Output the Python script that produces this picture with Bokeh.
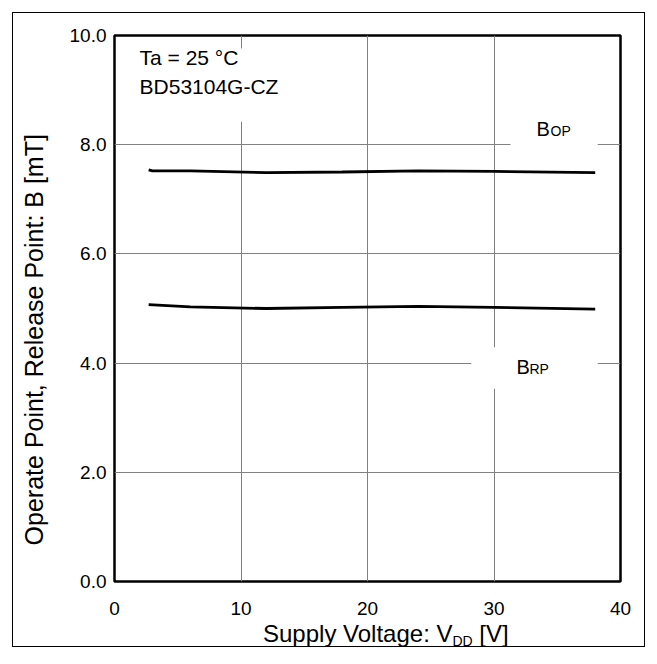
from bokeh.plotting import figure
from bokeh.layouts import column
from bokeh.models import Label, Range1d, FixedTicker, NumeralTickFormatter, BoxAnnotation, Div
from bokeh.embed import file_html
from bokeh.resources import INLINE

# ---- data ----
vdd_op = [2.7, 3.0, 6.0, 12.0, 18.0, 24.0, 30.0, 38.0]
b_op = [7.54, 7.52, 7.52, 7.49, 7.50, 7.52, 7.51, 7.49]
vdd_rp = [2.7, 6.0, 12.0, 18.0, 24.0, 30.0, 38.0]
b_rp = [5.07, 5.03, 5.00, 5.02, 5.04, 5.02, 4.99]
x_ticks = [0, 10, 20, 30, 40]
y_ticks = [0, 2, 4, 6, 8, 10]

FONT = "Liberation Sans"
W, H = 631, 611

p = figure(width=W, height=H, output_backend="svg", toolbar_location=None,
           x_range=Range1d(0, 40), y_range=Range1d(0, 10),
           min_border_left=101, min_border_right=24,
           min_border_top=22, min_border_bottom=43)
p.background_fill_color = "white"
p.border_fill_color = "white"
p.outline_line_color = "black"
p.outline_line_width = 2.5

for ax in (p.xaxis[0], p.yaxis[0]):
    ax.axis_line_color = None
    ax.major_tick_line_color = None
    ax.minor_tick_line_color = None
    ax.major_tick_in = 0
    ax.major_tick_out = 0
    ax.minor_tick_in = 0
    ax.minor_tick_out = 0
    ax.major_label_text_font = FONT
    ax.major_label_text_font_size = "19px"
    ax.major_label_text_color = "black"

p.xaxis.ticker = FixedTicker(ticks=x_ticks)
p.yaxis.ticker = FixedTicker(ticks=y_ticks)
p.xaxis.formatter = NumeralTickFormatter(format="0")
p.yaxis.formatter = NumeralTickFormatter(format="0.0")
p.xaxis.major_label_standoff = 20
p.yaxis.major_label_standoff = 8

p.yaxis.axis_label = "Operate Point, Release Point: B [mT]" + "\u00a0" * 9
p.yaxis.axis_label_text_font = FONT
p.yaxis.axis_label_text_font_size = "25px"
p.yaxis.axis_label_text_font_style = "normal"
p.yaxis.axis_label_text_color = "black"
p.yaxis.axis_label_standoff = 19

p.xgrid.ticker = FixedTicker(ticks=x_ticks)
p.ygrid.ticker = FixedTicker(ticks=y_ticks)
for g in (p.xgrid[0], p.ygrid[0]):
    g.grid_line_color = "#808080"
    g.grid_line_width = 1
    g.grid_line_alpha = 1

# white boxes behind the annotation texts (they interrupt the grid)
p.add_layout(BoxAnnotation(left=0.3, right=15.5, top=9.76, bottom=8.42,
                           fill_color="white", fill_alpha=1, line_color=None))
p.add_layout(BoxAnnotation(left=31.3, right=38.2, top=8.75, bottom=7.72,
                           fill_color="white", fill_alpha=1, line_color=None))
p.add_layout(BoxAnnotation(left=28.2, right=38.2, top=4.29, bottom=3.53,
                           fill_color="white", fill_alpha=1, line_color=None))

p.line(vdd_op, b_op, line_color="black", line_width=2.8)
p.line(vdd_rp, b_rp, line_color="black", line_width=2.8)

def lab(x, y, text, size, align="left", baseline="alphabetic"):
    p.add_layout(Label(x=x, y=y, text=text, text_font=FONT, text_font_size=size,
                       text_color="black", text_align=align, text_baseline=baseline))

# condition text
lab(1.98, 9.81, "Ta = 25 °C", "21px", baseline="top")
lab(1.98, 9.27, "BD53104G-CZ", "21px", baseline="top")

# curve labels
lab(33.36, 8.28, "B", "20px")
lab(34.47, 8.26, "OP", "14px")
lab(31.78, 3.92, "B", "20px")
lab(32.80, 3.89, "RP", "14px")

xlabel = Div(
    text=('<div style="font-family:\'Liberation Sans\';font-size:24px;color:#000;'
          'line-height:20px;height:20px;white-space:nowrap;padding-left:250px;">'
          'Supply Voltage: V<span style="font-size:14px;line-height:0;'
          'vertical-align:-4px;">DD</span> [V]</div>'),
    width=W, height=22, margin=0)

layout = column(p, xlabel, spacing=0,
                styles={"border": "1px solid #000000", "background-color": "white"},
                margin=(12, 0, 0, 12))

open("out.html", "w").write(file_html(layout, INLINE))
